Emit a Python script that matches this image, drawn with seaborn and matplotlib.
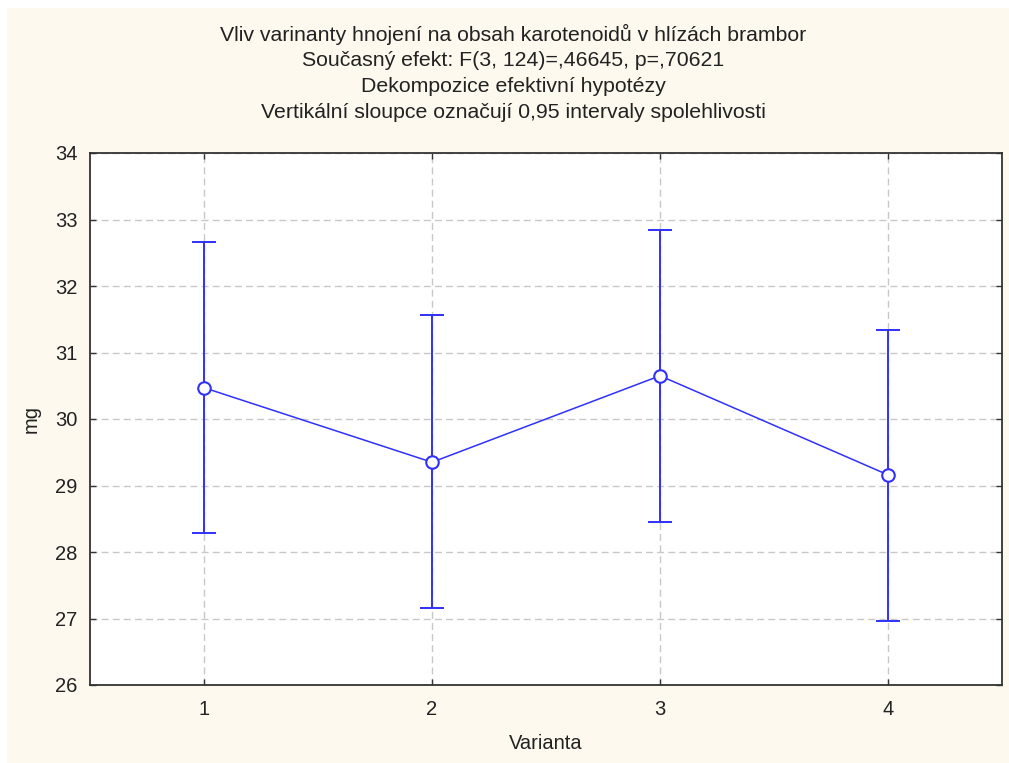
import matplotlib
matplotlib.use("Agg")
import matplotlib.pyplot as plt
import seaborn as sns
import pandas as pd
from matplotlib.patches import Rectangle

# ---- data ----
varianta = [1, 2, 3, 4]
mean_mg = [30.47, 29.35, 30.65, 29.16]
ci_low = [28.28, 27.16, 28.45, 26.96]
ci_high = [32.66, 31.56, 32.84, 31.34]
y_ticks = [26, 27, 28, 29, 30, 31, 32, 33, 34]
title_lines = [
    "Vliv varinanty hnojení na obsah karotenoidů v hlízách brambor",
    "Současný efekt: F(3, 124)=,46645, p=,70621",
    "Dekompozice efektivní hypotézy",
    "Vertikální sloupce označují 0,95 intervaly spolehlivosti",
]
x_label = "Varianta"
y_label = "mg"

df = pd.DataFrame({"Varianta": varianta, "mg": mean_mg})

sns.set_theme(style="white")
plt.rcParams["font.family"] = ["Liberation Sans", "DejaVu Sans"]

W, H = 1009, 763
fig = plt.figure(figsize=(W / 100, H / 100), dpi=100)
fig.patch.set_facecolor("white")
bg = Rectangle((7 / W, 0), 1 - 7 / W, 1 - 8 / H, transform=fig.transFigure,
               facecolor="#fef9ef", edgecolor="none", zorder=-10)
fig.patches.append(bg)

ax = fig.add_axes([90 / W, (H - 685) / H, (1002 - 90) / W, (685 - 153) / H])
ax.set_zorder(1)
ax.set_facecolor("white")

blue = "#3030ff"
yerr = [[m - lo for m, lo in zip(mean_mg, ci_low)], [hi - m for m, hi in zip(mean_mg, ci_high)]]
ax.errorbar(varianta, mean_mg, yerr=yerr, fmt="none", ecolor=blue, elinewidth=1.4,
            capsize=8.6, capthick=1.4, zorder=3)
sns.lineplot(data=df, x="Varianta", y="mg", ax=ax, color=blue, linewidth=1.1,
             marker="o", markersize=9, markerfacecolor="white", markeredgecolor=blue,
             markeredgewidth=1.5, zorder=4)

ax.set_xlim(0.5, 4.5)
ax.set_ylim(26, 34)
ax.set_xticks(varianta)
ax.set_yticks(y_ticks)
ax.grid(True, color="#c8c8c8", linestyle=(0, (5, 3)), linewidth=1.0)
ax.set_axisbelow(True)
for s in ax.spines.values():
    s.set_color("#333333")
    s.set_linewidth(1.3)
ax.tick_params(direction="in", length=4, width=1, color="#333333", labelsize=14.5,
               labelcolor="#222222", top=True, right=True, bottom=True, left=True)
ax.tick_params(axis="x", pad=10.5)
ax.tick_params(axis="y", pad=9)
ax.set_xlabel(x_label, fontsize=14.5, color="#222222", labelpad=11)
ax.set_ylabel(y_label, fontsize=14.5, color="#222222", labelpad=10)

ys = [34, 60, 86, 112]
for t, y in zip(title_lines, ys):
    fig.text(513 / W, 1 - y / H, t, ha="center", va="center", fontsize=15.3, color="#222222")

fig.savefig("out.png", dpi=100)
